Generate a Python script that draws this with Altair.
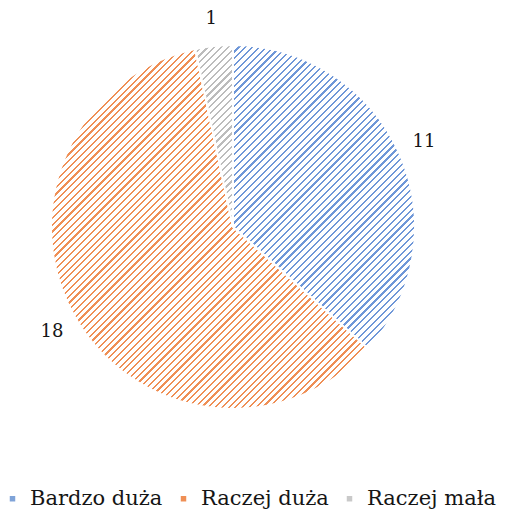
import math
import altair as alt
import pandas as pd

# ---- data ----
categories = ["Bardzo duża", "Raczej duża", "Raczej mała"]
values = [11, 18, 1]
order_idx = [0, 1, 2]

# ---- style ----
legend_colors = ["#7fa3d8", "#ef8f55", "#c9c9c9"]
stripe_colors = ["#6f97d8", "#ef8f55", "#bcbcbc"]

W, H = 492, 502
CX, CY, R = 225, 219, 182
PERIOD = 6.8   # stripe period measured along x+y
FRAC = 0.32    # coloured share of each stripe

df = pd.DataFrame({"category": categories, "value": values, "order": order_idx})


def slice_bbox(a0, a1):
    pts = [(0.0, 0.0)]
    angs = [a0, a1] + [k * math.pi / 2 for k in range(5) if a0 < k * math.pi / 2 < a1]
    for a in angs:
        pts.append((R * math.sin(a), -R * math.cos(a)))
    xs = [p[0] for p in pts]
    ys = [p[1] for p in pts]
    return max(xs) - min(xs), max(ys) - min(ys)


def stripes(color, w, h):
    L = w + h
    m = (w + h) / (w * w + h * h)
    n = max(1, round(L / PERIOD))
    stops = []
    for i in range(n):
        s = i / n
        e = (i + FRAC) / n
        stops += [
            {"offset": round(s, 5), "color": color},
            {"offset": round(e, 5), "color": color},
            {"offset": round(e, 5), "color": "#ffffff"},
            {"offset": round((i + 1) / n, 5), "color": "#ffffff"},
        ]
    return {"gradient": "linear", "x1": 0, "y1": 0,
            "x2": round(m * w, 5), "y2": round(m * h, 5), "stops": stops}


total = sum(values)
grads = []
acc = 0
for v, col in zip(values, stripe_colors):
    a0 = acc / total * 2 * math.pi
    acc += v
    a1 = acc / total * 2 * math.pi
    w, h = slice_bbox(a0, a1)
    grads.append(stripes(col, w, h))

fill_def = {
    "condition": [
        {"test": f"datum.order === {i}", "value": grads[i]} for i in range(len(grads) - 1)
    ],
    "value": grads[-1],
}

base = alt.Chart(df)

legend_layer = base.mark_arc(outerRadius=1).encode(
    theta=alt.Theta("value:Q", stack=True),
    color=alt.Color(
        "category:N",
        scale=alt.Scale(domain=categories, range=legend_colors),
        legend=alt.Legend(
            title=None, orient="none", direction="horizontal",
            legendX=-6, legendY=480, padding=0, gridAlign="each",
            symbolType="square", symbolSize=30, symbolStrokeWidth=0,
            symbolOpacity=1,
            labelFont="DejaVu Serif", labelFontSize=21, labelColor="#151515",
            labelOffset=7, columnPadding=10, labelLimit=0,
        ),
    ),
    x=alt.value(CX), y=alt.value(CY),
)

pie = base.mark_arc(outerRadius=R, stroke="white", strokeWidth=2).encode(
    theta=alt.Theta("value:Q", stack=True),
    order=alt.Order("order:Q"),
    fill=fill_def,
    x=alt.value(CX), y=alt.value(CY),
)

labels = base.mark_text(radius=209, font="DejaVu Serif", fontSize=18, color="#151515").encode(
    theta=alt.Theta("value:Q", stack=True),
    order=alt.Order("order:Q"),
    text=alt.Text("value:Q"),
    x=alt.value(CX), y=alt.value(CY),
)

chart = alt.layer(legend_layer, pie, labels).properties(
    width=W, height=H,
    autosize=alt.AutoSizeParams(type="none"),
    padding=0,
).configure_view(stroke="transparent")

chart.save("out.html", embed_options={"renderer": "svg", "actions": False})
